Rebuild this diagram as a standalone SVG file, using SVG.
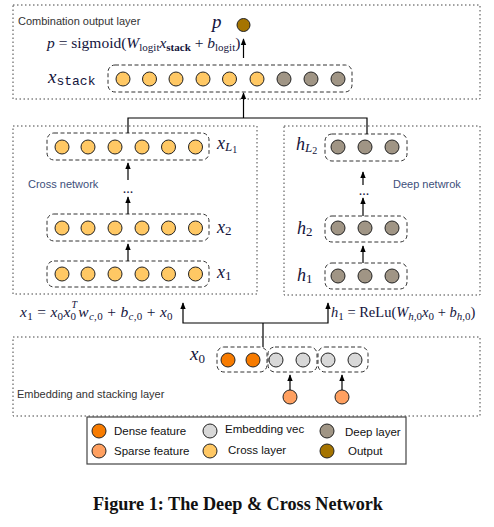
<svg xmlns="http://www.w3.org/2000/svg" width="494" height="527" viewBox="0 0 494 527">
<defs>
<marker id="ah" viewBox="0 0 10 10" refX="9" refY="5" markerWidth="7" markerHeight="7" orient="auto-start-reverse" markerUnits="userSpaceOnUse">
<path d="M0,1 L10,5 L0,9 Z" fill="#000"/>
</marker>
</defs>
<style>
.outer{fill:none;stroke:#444;stroke-width:1;stroke-dasharray:1.5 2.5}
.grp{fill:none;stroke:#333;stroke-width:1;stroke-dasharray:4 2.5}
.con{fill:none;stroke:#000;stroke-width:1.2}
.arr{fill:none;stroke:#000;stroke-width:1.2;marker-end:url(#ah)}
.c{stroke:#222;stroke-width:1}
.cross{fill:#ffc864}
.deep{fill:#a09585}
.emb{fill:#d8d8d8}
.dense{fill:#f77b00}
.sparse{fill:#ffa060}
.out{fill:#a57400}
.lab{font-family:"Liberation Sans",Arial,sans-serif;font-size:11px;fill:#333}
.blue{fill:#3d4f7a}
.m{font-family:"Liberation Serif","Times New Roman",serif;fill:#14143c}
.i{font-style:italic}
.s{font-size:11px}
.leg{font-family:"Liberation Sans",Arial,sans-serif;font-size:11.5px;fill:#111}
</style>

<g id="output-layer">
<rect class="outer" x="13" y="5" width="467" height="94"/>
<text class="lab" x="18" y="25">Combination output layer</text>
<text class="m i" x="212" y="28" font-size="19">p</text>
<circle class="c out" cx="243.5" cy="25" r="6.5"/>
<text class="m" x="47" y="48" font-size="15.5"><tspan class="i">p</tspan> = sigmoid(<tspan class="i">W</tspan><tspan class="s" dy="3">logit</tspan><tspan class="i" dy="-3">x</tspan><tspan class="s" dy="3" font-weight="bold">stack</tspan><tspan dy="-3"> + </tspan><tspan class="i">b</tspan><tspan class="s" dy="3">logit</tspan><tspan dy="-3">)</tspan></text>
<text class="m" x="48" y="83"><tspan class="i" font-size="19">x</tspan><tspan font-family="Liberation Mono,monospace" font-size="13" dy="2">stack</tspan></text>
<rect class="grp" x="108" y="65" width="244" height="27" rx="7"/>
<circle class="c cross" cx="123" cy="79" r="7"/>
<circle class="c cross" cx="149.5" cy="79" r="7"/>
<circle class="c cross" cx="176" cy="79" r="7"/>
<circle class="c cross" cx="203" cy="79" r="7"/>
<circle class="c cross" cx="229.5" cy="79" r="7"/>
<circle class="c cross" cx="257" cy="79" r="7"/>
<circle class="c deep" cx="284" cy="79" r="7"/>
<circle class="c deep" cx="311" cy="79" r="7"/>
<circle class="c deep" cx="338" cy="79" r="7"/>
</g>

<g id="cross-network">
<rect class="outer" x="13" y="126" width="244" height="168"/>
<text class="lab blue" x="28" y="188">Cross network</text>
<rect class="grp" x="47" y="133" width="162" height="27" rx="7"/>
<rect class="grp" x="47" y="214" width="162" height="27" rx="7"/>
<rect class="grp" x="47" y="261" width="162" height="26" rx="7"/>
<g class="c cross">
<circle cx="62" cy="147" r="7"/><circle cx="88" cy="147" r="7"/><circle cx="115" cy="147" r="7"/><circle cx="142" cy="147" r="7"/><circle cx="168.5" cy="147" r="7"/><circle cx="195.5" cy="147" r="7"/>
<circle cx="62" cy="228" r="7"/><circle cx="88" cy="228" r="7"/><circle cx="115" cy="228" r="7"/><circle cx="142" cy="228" r="7"/><circle cx="168.5" cy="228" r="7"/><circle cx="195.5" cy="228" r="7"/>
<circle cx="62" cy="274" r="7"/><circle cx="88" cy="274" r="7"/><circle cx="115" cy="274" r="7"/><circle cx="142" cy="274" r="7"/><circle cx="168.5" cy="274" r="7"/><circle cx="195.5" cy="274" r="7"/>
</g>
<text class="m" x="217" y="149"><tspan class="i" font-size="18">x</tspan><tspan class="i" font-size="13" dy="2">L</tspan><tspan font-size="10" dy="2">1</tspan></text>
<text class="m" x="217" y="233"><tspan class="i" font-size="18">x</tspan><tspan font-size="13" dy="2">2</tspan></text>
<text class="m" x="217" y="278"><tspan class="i" font-size="18">x</tspan><tspan font-size="13" dy="2">1</tspan></text>
<text class="m" x="128" y="193" font-size="14" text-anchor="middle">...</text>
</g>

<g id="deep-network">
<rect class="outer" x="284" y="126" width="196" height="169"/>
<text class="lab blue" x="393" y="188">Deep netwrok</text>
<rect class="grp" x="325" y="134" width="82" height="27" rx="7"/>
<rect class="grp" x="325" y="216" width="82" height="26" rx="7"/>
<rect class="grp" x="325" y="263" width="82" height="26" rx="7"/>
<g class="c deep">
<circle cx="338" cy="147" r="7"/><circle cx="365" cy="147" r="7"/><circle cx="392" cy="147" r="7"/>
<circle cx="338" cy="228" r="7"/><circle cx="365" cy="228" r="7"/><circle cx="392" cy="228" r="7"/>
<circle cx="338" cy="276" r="7"/><circle cx="365" cy="276" r="7"/><circle cx="392" cy="276" r="7"/>
</g>
<text class="m" x="296" y="150"><tspan class="i" font-size="18">h</tspan><tspan class="i" font-size="13" dy="2">L</tspan><tspan font-size="10" dy="2">2</tspan></text>
<text class="m" x="297" y="234"><tspan class="i" font-size="18">h</tspan><tspan font-size="13" dy="2">2</tspan></text>
<text class="m" x="297" y="281"><tspan class="i" font-size="18">h</tspan><tspan font-size="13" dy="2">1</tspan></text>
<text class="m" x="364" y="195" font-size="14" text-anchor="middle">...</text>
</g>

<g id="embedding-layer">
<rect class="outer" x="13" y="337" width="467" height="79"/>
<text class="lab" x="17" y="398">Embedding and stacking layer</text>
<text class="m" x="190" y="360"><tspan class="i" font-size="19">x</tspan><tspan font-size="13" dy="3">0</tspan></text>
<rect class="grp" x="217" y="347" width="50" height="25" rx="7"/>
<rect class="grp" x="268" y="347" width="49" height="25" rx="7"/>
<rect class="grp" x="318" y="347" width="50" height="25" rx="7"/>
<circle class="c dense" cx="228" cy="360" r="7"/>
<circle class="c dense" cx="253" cy="360" r="7"/>
<circle class="c emb" cx="276" cy="360" r="7"/>
<circle class="c emb" cx="303" cy="360" r="7"/>
<circle class="c emb" cx="328" cy="360" r="7"/>
<circle class="c emb" cx="355" cy="360" r="7"/>
<circle class="c sparse" cx="290" cy="397" r="7"/>
<circle class="c sparse" cx="342" cy="397" r="7"/>
</g>

<g id="formulas">
<text class="m" x="20" y="317" font-size="15.5" letter-spacing="0.3"><tspan class="i">x</tspan><tspan class="s" dy="3">1</tspan><tspan dy="-3"> = </tspan><tspan class="i">x</tspan><tspan class="s" dy="3">0</tspan><tspan class="i" dy="-3">x</tspan><tspan class="s" dy="3">0</tspan><tspan class="i" font-size="10" dx="-5" dy="-12">T</tspan><tspan class="i" dy="9" dx="1">w</tspan><tspan class="i s" dy="3">c</tspan><tspan class="s">,0</tspan><tspan dy="-3"> + </tspan><tspan class="i">b</tspan><tspan class="i s" dy="3">c</tspan><tspan class="s">,0</tspan><tspan dy="-3"> + </tspan><tspan class="i">x</tspan><tspan class="s" dy="3">0</tspan></text>
<text class="m" x="331" y="317" font-size="14.5"><tspan class="i">h</tspan><tspan class="s" dy="3">1</tspan><tspan dy="-3"> = ReLu(</tspan><tspan class="i">W</tspan><tspan class="i s" dy="3">h</tspan><tspan class="s">,0</tspan><tspan class="i" dy="-3">x</tspan><tspan class="s" dy="3">0</tspan><tspan dy="-3"> + </tspan><tspan class="i">b</tspan><tspan class="i s" dy="3">h</tspan><tspan class="s">,0</tspan><tspan dy="-3">)</tspan></text>
</g>

<g id="connectors">
<line class="arr" x1="243.5" y1="58" x2="243.5" y2="39"/>
<polyline class="con" points="128,133 128,118 367,118 367,134"/>
<line class="arr" x1="243.5" y1="118" x2="243.5" y2="93"/>
<line class="arr" x1="128" y1="180" x2="128" y2="163"/>
<line class="arr" x1="128" y1="214" x2="128" y2="197"/>
<line class="arr" x1="128" y1="261" x2="128" y2="244"/>
<line class="arr" x1="363" y1="185" x2="363" y2="172"/>
<line class="arr" x1="363" y1="216" x2="363" y2="198"/>
<line class="arr" x1="363" y1="263" x2="363" y2="246"/>
<polyline class="con" points="263,347 263,323"/>
<polyline class="arr" points="263,323 183,323 183,303"/>
<polyline class="arr" points="263,323 328,323 328,303"/>
<line class="arr" x1="290" y1="390" x2="290" y2="375"/>
<line class="arr" x1="342" y1="390" x2="342" y2="375"/>
</g>

<g id="legend">
<rect x="87" y="417" width="319" height="47" fill="#fff" stroke="#444" stroke-width="1.2"/>
<circle class="c dense" cx="99" cy="431" r="7"/>
<circle class="c sparse" cx="99" cy="451" r="7"/>
<circle class="c emb" cx="210" cy="431" r="7"/>
<circle class="c cross" cx="210" cy="451" r="7"/>
<circle class="c deep" cx="327" cy="431" r="7"/>
<circle class="c out" cx="327" cy="451" r="7"/>
<text class="leg" x="114" y="435">Dense feature</text>
<text class="leg" x="114" y="455">Sparse feature</text>
<text class="leg" x="225" y="433">Embedding vec</text>
<text class="leg" x="228" y="454">Cross layer</text>
<text class="leg" x="345" y="436">Deep layer</text>
<text class="leg" x="348" y="455">Output</text>
</g>

<text x="93" y="510" font-family="Liberation Serif,serif" font-weight="bold" font-size="18.2" fill="#111">Figure 1: The Deep &amp; Cross Network</text>
</svg>
